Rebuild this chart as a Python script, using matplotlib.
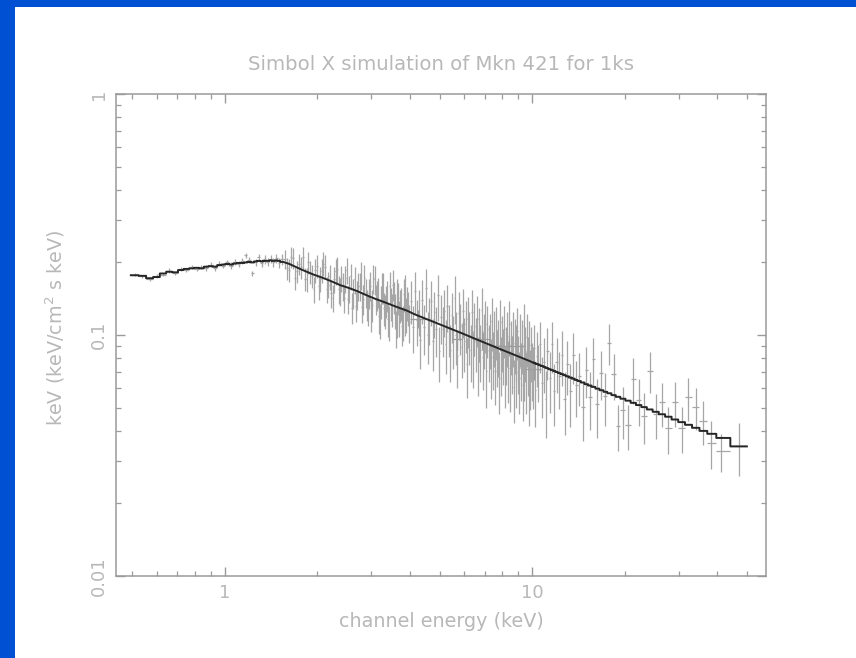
import numpy as np
import matplotlib.pyplot as plt
from matplotlib.ticker import FixedLocator, NullFormatter, FuncFormatter, LogLocator

# --- data (keV, keV^2/cm^2/s/keV) ---
# soft channels
e_low = [0.51, 0.54, 0.57, 0.60, 0.63, 0.66, 0.69, 0.72, 0.75, 0.78,
         0.81, 0.84, 0.87, 0.90, 0.93, 0.96, 0.99, 1.02, 1.05, 1.08,
         1.11, 1.14, 1.17, 1.20, 1.23, 1.26, 1.29, 1.32, 1.35, 1.38,
         1.41, 1.44, 1.47, 1.50, 1.53]
f_low = [0.178, 0.175, 0.171, 0.176, 0.178, 0.185, 0.180, 0.188, 0.186, 0.192,
         0.188, 0.191, 0.190, 0.196, 0.190, 0.198, 0.194, 0.200, 0.194, 0.201,
         0.197, 0.203, 0.214, 0.205, 0.180, 0.200, 0.210, 0.199, 0.206, 0.201,
         0.207, 0.200, 0.208, 0.199, 0.206]
err_low = [0.003, 0.003, 0.003, 0.003, 0.003, 0.004, 0.003, 0.004, 0.004, 0.004,
           0.004, 0.004, 0.005, 0.004, 0.005, 0.005, 0.005, 0.005, 0.006, 0.005,
           0.006, 0.006, 0.005, 0.006, 0.005, 0.007, 0.007, 0.007, 0.008, 0.008,
           0.008, 0.009, 0.009, 0.010, 0.010]

# dense middle channels
e_mid = [1.57, 1.62, 1.67, 1.72, 1.77, 1.82, 1.87, 1.92, 1.97, 2.02,
         2.07, 2.12, 2.17, 2.22, 2.27, 2.32, 2.37, 2.42, 2.47, 2.52,
         2.57, 2.62, 2.67, 2.72, 2.77, 2.82, 2.87, 2.92, 2.97, 3.02,
         3.07, 3.12, 3.17, 3.22, 3.27, 3.32, 3.37, 3.42, 3.47, 3.52,
         3.57, 3.62, 3.67, 3.72, 3.77, 3.82, 3.87, 3.92, 3.97,
         4.03, 4.09, 4.15, 4.21, 4.27, 4.33, 4.39, 4.45, 4.51, 4.57,
         4.63, 4.69, 4.75, 4.81, 4.87, 4.93, 4.99, 5.05, 5.11, 5.17,
         5.23, 5.29, 5.35, 5.41, 5.47, 5.53, 5.59, 5.65, 5.71, 5.77,
         5.83, 5.89, 5.95, 6.01, 6.07, 6.13, 6.19, 6.25, 6.31, 6.37,
         6.43, 6.49, 6.55, 6.61, 6.67, 6.73, 6.79, 6.85, 6.91, 6.97,
         7.03, 7.09, 7.15, 7.21, 7.27, 7.33, 7.39, 7.45, 7.51, 7.57,
         7.63, 7.69, 7.75, 7.81, 7.87, 7.93, 7.99, 8.05, 8.11, 8.17,
         8.23, 8.29, 8.35, 8.41, 8.47, 8.53, 8.59, 8.65, 8.71, 8.77,
         8.83, 8.89, 8.95, 9.01, 9.07, 9.13, 9.19, 9.25, 9.31, 9.37,
         9.43, 9.49, 9.55, 9.61, 9.67, 9.73, 9.79, 9.85, 9.91, 9.97]
f_mid = [0.207, 0.186, 0.208, 0.184, 0.191, 0.171, 0.200, 0.176, 0.186, 0.159,
         0.185, 0.192, 0.162, 0.149, 0.170, 0.187, 0.152, 0.160, 0.172, 0.141,
         0.175, 0.149, 0.132, 0.160, 0.177, 0.141, 0.150, 0.128, 0.160, 0.133,
         0.170, 0.147, 0.120, 0.138, 0.157, 0.126, 0.146, 0.113, 0.135, 0.162,
         0.127, 0.117, 0.143, 0.133, 0.109, 0.148, 0.119, 0.136, 0.113,
         0.139, 0.108, 0.152, 0.115, 0.126, 0.095, 0.140, 0.108, 0.156, 0.100,
         0.117, 0.138, 0.094, 0.124, 0.106, 0.146, 0.086, 0.119, 0.106, 0.126,
         0.092, 0.132, 0.107, 0.087, 0.121, 0.096, 0.143, 0.100, 0.082, 0.123,
         0.109, 0.089, 0.126, 0.094, 0.111, 0.076, 0.116, 0.100, 0.087, 0.125,
         0.082, 0.109, 0.094, 0.117, 0.077, 0.103, 0.087, 0.127, 0.081, 0.097,
         0.111, 0.071, 0.106, 0.087, 0.097, 0.075, 0.114, 0.081, 0.100, 0.071,
         0.105, 0.083, 0.091, 0.066, 0.113, 0.077, 0.095, 0.084, 0.106, 0.070,
         0.085, 0.099, 0.073, 0.111, 0.067, 0.091, 0.078, 0.099, 0.061, 0.093,
         0.087, 0.070, 0.104, 0.078, 0.066, 0.098, 0.073, 0.092, 0.062, 0.109,
         0.073, 0.086, 0.066, 0.098, 0.077, 0.060, 0.091, 0.068, 0.086, 0.073]
err_mid = [0.019, 0.020, 0.021, 0.019, 0.020, 0.019, 0.021, 0.020, 0.021, 0.019,
           0.021, 0.022, 0.020, 0.019, 0.021, 0.023, 0.020, 0.021, 0.022, 0.019,
           0.022, 0.021, 0.019, 0.021, 0.023, 0.020, 0.021, 0.019, 0.022, 0.020,
           0.024, 0.021, 0.019, 0.021, 0.023, 0.020, 0.022, 0.019, 0.021, 0.024,
           0.021, 0.020, 0.022, 0.021, 0.019, 0.023, 0.020, 0.022, 0.020,
           0.028, 0.024, 0.030, 0.025, 0.027, 0.023, 0.029, 0.025, 0.032, 0.024,
           0.026, 0.029, 0.023, 0.027, 0.025, 0.032, 0.022, 0.027, 0.025, 0.028,
           0.023, 0.029, 0.026, 0.023, 0.028, 0.024, 0.032, 0.025, 0.022, 0.028,
           0.026, 0.023, 0.029, 0.024, 0.027, 0.021, 0.028, 0.025, 0.023, 0.029,
           0.022, 0.027, 0.024, 0.028, 0.021, 0.026, 0.023, 0.030, 0.022, 0.025,
           0.027, 0.021, 0.026, 0.023, 0.025, 0.021, 0.028, 0.022, 0.026, 0.020,
           0.026, 0.022, 0.024, 0.019, 0.027, 0.021, 0.025, 0.022, 0.026, 0.020,
           0.023, 0.025, 0.021, 0.027, 0.019, 0.023, 0.021, 0.025, 0.018, 0.024,
           0.023, 0.020, 0.025, 0.021, 0.019, 0.024, 0.020, 0.023, 0.018, 0.026,
           0.020, 0.022, 0.019, 0.024, 0.021, 0.018, 0.023, 0.019, 0.022, 0.020]

# second interleaved set of channels between 1.6 and 4 keV
e_mid2 = [1.595, 1.645, 1.695, 1.745, 1.795, 1.845, 1.895, 1.945, 1.995, 2.045,
          2.095, 2.145, 2.195, 2.245, 2.295, 2.345, 2.395, 2.445, 2.495, 2.545,
          2.595, 2.645, 2.695, 2.745, 2.795, 2.845, 2.895, 2.945, 2.995, 3.045,
          3.095, 3.145, 3.195, 3.245, 3.295, 3.345, 3.395, 3.445, 3.495, 3.545,
          3.595, 3.645, 3.695, 3.745, 3.795, 3.845, 3.895, 3.945]
f_mid2 = [0.189, 0.211, 0.172, 0.197, 0.210, 0.170, 0.183, 0.155, 0.194, 0.171,
          0.198, 0.155, 0.175, 0.143, 0.184, 0.155, 0.172, 0.142, 0.186, 0.156,
          0.130, 0.170, 0.147, 0.159, 0.131, 0.172, 0.134, 0.149, 0.122, 0.172,
          0.141, 0.151, 0.115, 0.157, 0.129, 0.139, 0.117, 0.159, 0.128, 0.144,
          0.107, 0.147, 0.118, 0.135, 0.113, 0.154, 0.122, 0.130]
err_mid2 = [0.020, 0.021, 0.019, 0.020, 0.022, 0.019, 0.020, 0.019, 0.021, 0.020,
            0.022, 0.019, 0.021, 0.019, 0.022, 0.020, 0.021, 0.019, 0.023, 0.020,
            0.019, 0.022, 0.020, 0.021, 0.019, 0.023, 0.020, 0.021, 0.019, 0.024,
            0.020, 0.022, 0.019, 0.023, 0.020, 0.021, 0.019, 0.024, 0.020, 0.022,
            0.019, 0.023, 0.020, 0.021, 0.019, 0.024, 0.020, 0.021]

# grouped hard channels
e_high = [10.05, 10.15, 10.25, 10.35, 10.45, 10.6, 10.75, 10.9, 11.05, 11.2,
          11.4, 11.6, 11.8, 12.0, 12.25, 12.5, 12.75, 13.0, 13.3, 13.6,
          13.9, 14.2, 14.6, 15.0, 15.4, 15.8, 16.3, 16.8, 17.3, 17.8,
          18.4, 19.0, 19.7, 20.5, 21.3, 22.2, 23.1, 24.1, 25.2, 26.4,
          27.7, 29.1, 30.6, 32.2, 34.0, 36.0, 38.2, 41.2, 47.0]
f_high = [0.0693, 0.0881, 0.0594, 0.0819, 0.0717, 0.0914, 0.0632, 0.0776, 0.0542, 0.0859,
          0.0663, 0.0915, 0.0588, 0.0772, 0.0674, 0.0826, 0.0545, 0.0755, 0.0586, 0.0824,
          0.0618, 0.0676, 0.0502, 0.0719, 0.0555, 0.0792, 0.0515, 0.0696, 0.0558, 0.0928,
          0.0687, 0.0421, 0.0490, 0.0422, 0.0659, 0.0538, 0.0462, 0.0712, 0.0470, 0.0525,
          0.0412, 0.0526, 0.0413, 0.0551, 0.0503, 0.0440, 0.0358, 0.0329, 0.0345]
err_high = [0.020, 0.022, 0.018, 0.021, 0.019, 0.022, 0.018, 0.020, 0.017, 0.021,
            0.019, 0.022, 0.017, 0.020, 0.018, 0.021, 0.016, 0.019, 0.017, 0.020,
            0.016, 0.017, 0.014, 0.017, 0.015, 0.018, 0.014, 0.016, 0.014, 0.018,
            0.015, 0.009, 0.012, 0.009, 0.014, 0.012, 0.011, 0.014, 0.010, 0.011,
            0.009, 0.011, 0.009, 0.011, 0.010, 0.009, 0.008, 0.006, 0.0085]

# a few broad bins overlapping the middle band
wide_lo = [4.0, 5.5, 6.4, 7.3, 9.5]
wide_hi = [4.5, 5.9, 7.3, 9.5, 10.7]
wide_val = [0.117, 0.096, 0.096, 0.090, 0.072]
wide_err = [0.010, 0.009, 0.009, 0.008, 0.007]

# folded model
model_low = [0.177, 0.176, 0.172, 0.174, 0.180, 0.183, 0.182, 0.186, 0.188, 0.189,
             0.190, 0.189, 0.192, 0.193, 0.192, 0.195, 0.196, 0.197, 0.196, 0.198,
             0.199, 0.199, 0.200, 0.201, 0.200, 0.202, 0.203, 0.202, 0.203, 0.203,
             0.204, 0.203, 0.204, 0.203, 0.201]
model_mid_edges = [1.55, 1.70, 1.85, 2.0, 2.15, 2.3, 2.45, 2.6, 2.8, 3.0,
                   3.2, 3.4, 3.6, 3.8, 4.0, 4.3, 4.6, 4.9, 5.2, 5.5,
                   5.8, 6.1, 6.4, 6.7, 7.0, 7.3, 7.6, 7.9, 8.2, 8.5,
                   8.8, 9.1, 9.4, 9.7]
model_mid = [0.197, 0.187, 0.179, 0.173, 0.167, 0.161, 0.157, 0.152, 0.146, 0.141,
             0.137, 0.133, 0.1295, 0.1265, 0.1218, 0.1175, 0.1137, 0.1102, 0.1070, 0.1040,
             0.1013, 0.0986, 0.0962, 0.0940, 0.0919, 0.0899, 0.0881, 0.0864, 0.0848, 0.0833,
             0.0818, 0.0804, 0.0791, 0.0778]
model_high = [0.0770, 0.0766, 0.0762, 0.0758, 0.0755, 0.0749, 0.0744, 0.0739, 0.0733, 0.0728,
              0.0721, 0.0715, 0.0709, 0.0702, 0.0695, 0.0688, 0.0681, 0.0674, 0.0666, 0.0659,
              0.0651, 0.0644, 0.0635, 0.0625, 0.0617, 0.0609, 0.0599, 0.0590, 0.0581, 0.0573,
              0.0563, 0.0554, 0.0544, 0.0534, 0.0523, 0.0512, 0.0502, 0.0491, 0.0480, 0.0469,
              0.0458, 0.0446, 0.0435, 0.0424, 0.0412, 0.0400, 0.0389, 0.0374, 0.0345]

title = "Simbol X simulation of Mkn 421 for 1ks"
xlabel = "channel energy (keV)"
ylabel = "keV (keV/cm$^2$ s keV)"

# --- build bins ---
energy = np.array(e_low + e_mid + e_mid2 + e_high)
flux = np.array(f_low + f_mid + f_mid2 + f_high)
ferr = np.array(err_low + err_mid + err_mid2 + err_high)
order = np.argsort(energy)
energy, flux, ferr = energy[order], flux[order], ferr[order]

mids = (energy[1:] + energy[:-1]) / 2
edges = np.concatenate([[energy[0] - (energy[1] - energy[0]) / 2], mids,
                        [energy[-1] + (energy[-1] - energy[-2]) / 2]])
xlo = energy - edges[:-1]
xhi = edges[1:] - energy

n_low = len(e_low)
k = n_low + len(e_mid) + len(e_mid2)

# model path: steps in soft and hard parts, fine-grid line in between
mb = np.array(model_mid_edges + [edges[k]])
mx = np.concatenate([np.repeat(edges[:n_low + 1], 2)[1:-1],
                     (mb[1:] + mb[:-1]) / 2,
                     np.repeat(edges[k:], 2)[1:-1]])
my = np.concatenate([np.repeat(model_low, 2), model_mid, np.repeat(model_high, 2)])

wlo = np.array(wide_lo)
whi = np.array(wide_hi)
wc = (wlo + whi) / 2

# --- plot ---
txt = "#b8b8b8"
axc = "#9a9a9a"
fs = 13.8
plt.rcParams["font.family"] = ["DejaVu Sans"]

fig = plt.figure(figsize=(8.56, 6.58), dpi=100, facecolor="#0050d4")
fig.patches.append(plt.Rectangle((15 / 856, 0), 1, 1 - 7 / 658, transform=fig.transFigure,
                                 facecolor="white", edgecolor="none", zorder=-10))
ax = fig.add_axes([116 / 856, 1 - 576 / 658, 650 / 856, 482 / 658])

ax.errorbar(energy, flux, xerr=[xlo, xhi], yerr=ferr, fmt="none",
            ecolor="#a6a6a6", elinewidth=0.9, capsize=0, zorder=2)
ax.errorbar(wc, wide_val, xerr=[wc - wlo, whi - wc], yerr=wide_err, fmt="none",
            ecolor="#9c9c9c", elinewidth=0.9, capsize=0, zorder=2)
ax.plot(mx, my, color="#262626", lw=1.4, zorder=3)

ax.set_xscale("log")
ax.set_yscale("log")
ax.set_xlim(0.443, 57.6)
ax.set_ylim(0.01, 1)

ax.xaxis.set_major_locator(FixedLocator([1, 10]))
ax.xaxis.set_minor_locator(LogLocator(base=10, subs=np.arange(2, 10)))
ax.yaxis.set_major_locator(FixedLocator([0.01, 0.1, 1]))
ax.yaxis.set_minor_locator(LogLocator(base=10, subs=np.arange(2, 10)))
ax.xaxis.set_major_formatter(FuncFormatter(lambda v, p: "%g" % v))
ax.yaxis.set_major_formatter(FuncFormatter(lambda v, p: "%g" % v))
ax.xaxis.set_minor_formatter(NullFormatter())
ax.yaxis.set_minor_formatter(NullFormatter())

for s in ax.spines.values():
    s.set_color(axc)
    s.set_linewidth(1.1)
ax.tick_params(which="both", direction="in", top=True, right=True, colors=axc,
               labelcolor=txt, labelsize=13)
ax.tick_params(which="major", length=6.5, width=1.0, pad=6)
ax.tick_params(which="minor", length=3.4, width=0.9)
for lab in ax.get_yticklabels():
    lab.set_rotation(90)
    lab.set_va("center")

ax.set_title(title, color=txt, fontsize=14.2, pad=17.6)
ax.set_xlabel(xlabel, color=txt, fontsize=fs)
ax.xaxis.label.set_va("center")
ax.xaxis.set_label_coords(0.5, -0.0954)
ax.set_ylabel(ylabel, color=txt, fontsize=fs)
ax.yaxis.label.set_va("center")
ax.yaxis.set_label_coords(-0.0938, 0.5145)

fig.savefig("out.png", dpi=100, facecolor=fig.get_facecolor())
